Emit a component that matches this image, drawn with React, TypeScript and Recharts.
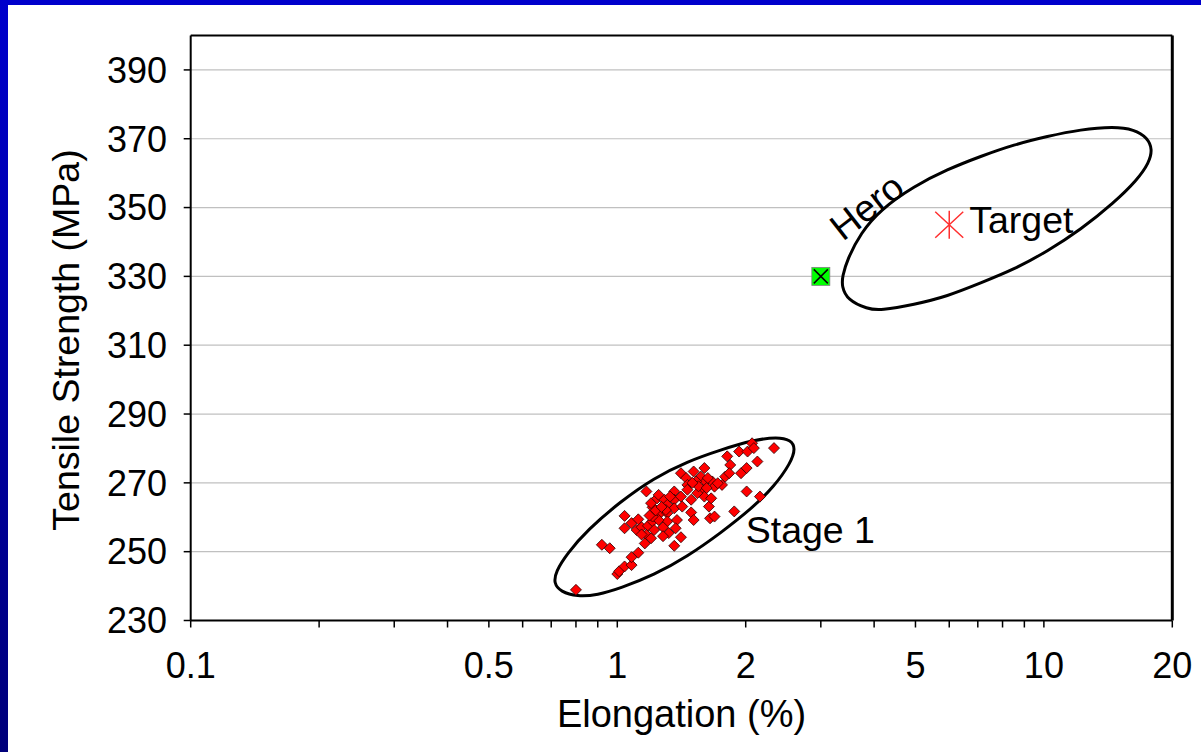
import { CartesianGrid, ReferenceDot, ReferenceLine, Scatter, ScatterChart, XAxis, YAxis } from 'recharts';

const FONT = '"Liberation Sans", Arial, Helvetica, sans-serif';

// Stage 1 castings: elongation (%) / tensile strength (MPa)
const stage1Elongation = [
  0.8, 0.92, 0.96, 1.0, 1.01, 1.04, 1.08, 1.08, 1.12, 1.04, 1.04, 1.08, 1.12, 1.11, 1.14, 1.18, 1.17, 1.2, 1.16, 1.21,
  1.17, 1.21, 1.2, 1.24, 1.25, 1.26, 1.29, 1.31, 1.31, 1.28, 1.32, 1.31, 1.36, 1.36, 1.38, 1.41, 1.36, 1.37, 1.41, 1.41,
  1.45, 1.46, 1.49, 1.49, 1.51, 1.51, 1.57, 1.6, 1.61, 1.58, 1.64, 1.65, 1.69, 1.6, 1.66, 1.67, 1.69, 1.76, 1.79, 1.81,
  1.84, 1.83, 1.88, 1.95, 2.01, 2.01, 2.13, 2.16, 1.93, 2.02, 2.07, 2.09, 2.33, 1.46, 1.53, 1.63, 1.72, 1.36, 1.42, 1.25,
  1.22, 1.33, 1.54, 1.3, 1.21, 1.23, 1.27, 1.19, 1.55, 1.62, 1.5, 1.14, 1.28,
];
const stage1Strength = [
  238.9, 252.0, 251.0, 243.5, 244.3, 245.7, 246.1, 248.4, 249.7, 260.4, 256.8, 258.3, 259.4, 256.3, 257.1, 257.5, 254.9, 253.9, 252.4, 258.8,
  267.5, 262.9, 264.1, 265.5, 266.5, 261.2, 265.1, 261.2, 258.8, 257.1, 255.4, 263.6, 267.5, 265.1, 259.2, 254.2, 251.7, 256.8, 272.8, 266.0,
  271.4, 269.4, 265.1, 261.4, 259.2, 273.3, 271.8, 274.3, 270.4, 268.0, 263.1, 259.7, 260.2, 266.0, 265.5, 270.4, 268.9, 269.4, 271.8, 277.7,
  275.2, 272.8, 261.7, 272.8, 274.3, 267.5, 276.2, 266.0, 279.1, 279.1, 281.5, 280.1, 280.1, 268.0, 270.4, 271.4, 269.9, 262.6, 263.1, 259.2,
  256.3, 266.0, 267.0, 262.1, 260.2, 262.0, 263.0, 260.5, 269.0, 268.5, 270.0, 255.0, 254.5,
];

// hand-drawn outline round the Stage 1 cloud
const stage1RingElongation = [
  0.71, 0.736, 0.806, 0.898, 1.018, 1.218, 1.459, 1.747, 2.091, 2.329, 2.549, 2.619, 2.549, 2.372, 2.091, 1.747, 1.459,
  1.218, 1.018, 0.851, 0.763, 0.717,
];
const stage1RingStrength = [
  240.8, 238.4, 236.9, 237.4, 239.4, 243.2, 248.6, 255.4, 263.1, 268.9, 275.7, 280.1, 282.5, 283.3, 282.5, 279.6, 276.2,
  271.4, 264.6, 256.3, 249.5, 244.2,
];

// hand-drawn "Hero" window round the target
const heroRingElongation = [
  3.36, 3.46, 3.86, 4.14, 4.96, 5.94, 7.11, 8.51, 10.19, 12.2, 14.6, 16.57, 17.64, 17.97, 17.49, 16.27, 14.6, 12.2, 10.19,
  8.51, 7.11, 5.94, 4.96, 4.14, 3.72, 3.46, 3.37,
];
const heroRingStrength = [
  327.1, 323.2, 320.5, 320.1, 321.8, 324.2, 328.1, 332.0, 337.3, 343.6, 351.4, 358.1, 363.0, 366.9, 370.3, 372.7, 373.5,
  372.7, 370.7, 368.3, 364.9, 361.1, 356.2, 349.4, 342.6, 334.9, 330.0,
];

const heroElongation = [3.0];
const heroStrength = [330];
const targetElongation = [6.0];
const targetStrength = [345];

const xTicks = [0.1, 0.2, 0.3, 0.4, 0.5, 0.6, 0.7, 0.8, 0.9, 1, 2, 3, 4, 5, 6, 7, 8, 9, 10, 20];
const xTickLabels = [0.1, 0.5, 1, 2, 5, 10, 20];
const yTicks = [230, 250, 270, 290, 310, 330, 350, 370, 390];

const zip = (xs: number[], ys: number[]) => xs.map((x, i) => ({ x, y: ys[i] }));

const stage1Data = zip(stage1Elongation, stage1Strength);
const stage1Ring = zip(stage1RingElongation, stage1RingStrength);
const heroRing = zip(heroRingElongation, heroRingStrength);
const heroData = zip(heroElongation, heroStrength);
const targetData = zip(targetElongation, targetStrength);

function XTick({ x, y, payload }: any) {
  if (!xTickLabels.includes(payload.value)) return <g />;
  return (
    <text x={x} y={y} dy="0.71em" textAnchor="middle" fontSize={36} fill="#000" fontFamily={FONT}>
      {payload.value}
    </text>
  );
}

function Diamond({ cx, cy }: any) {
  const r = 5.5;
  return (
    <polygon
      points={`${cx},${cy - r} ${cx + r},${cy} ${cx},${cy + r} ${cx - r},${cy}`}
      fill="#FF0000"
      stroke="#2a0000"
      strokeWidth={0.8}
    />
  );
}

function HeroMarker({ cx, cy }: any) {
  return (
    <g>
      <rect x={cx - 9} y={cy - 9} width={18} height={18} fill="#00FF00" stroke="#808080" strokeWidth={0.8} />
      <path
        d={`M${cx - 7},${cy - 7}L${cx + 7},${cy + 7}M${cx + 7},${cy - 7}L${cx - 7},${cy + 7}`}
        stroke="#000"
        strokeWidth={1.5}
      />
    </g>
  );
}

function TargetMarker({ cx, cy }: any) {
  const s = 14;
  return (
    <g>
      <path
        d={`M${cx},${cy - s}V${cy + s}M${cx - s},${cy - 13}L${cx + s},${cy + 13}M${cx + s},${cy - 13}L${cx - s},${cy + 13}`}
        stroke="#FF3030"
        strokeWidth={1.5}
        fill="none"
      />
      <text x={cx + 20} y={cy + 8} fontSize={37.5} fill="#000" fontFamily={FONT}>
        Target
      </text>
    </g>
  );
}

const noDot = () => <g />;

export default function App() {
  return (
    <div
      style={{
        position: 'relative',
        width: 1201,
        height: 752,
        background: 'linear-gradient(to bottom, #0000CC, #00007A)',
        fontFamily: FONT,
      }}
    >
      <style>{'body{margin:0}'}</style>
      <div style={{ position: 'absolute', left: 8, top: 5, right: 0, bottom: 0, background: '#fff' }} />
      <div style={{ position: 'absolute', left: 0, top: 0 }}>
        <ScatterChart width={1201} height={752} margin={{ top: 35.5, right: 28.7, bottom: 0, left: 0 }}>
          <CartesianGrid vertical={false} stroke="#c0c0c0" strokeWidth={1.2} />
          <XAxis
            type="number"
            dataKey="x"
            scale="log"
            domain={[0.1, 20]}
            allowDataOverflow
            ticks={xTicks}
            interval={0}
            height={131.5}
            tickSize={7}
            tickMargin={25}
            tick={<XTick />}
            axisLine={{ stroke: '#000', strokeWidth: 2 }}
            tickLine={{ stroke: '#000', strokeWidth: 1.5 }}
            label={{ value: 'Elongation (%)', position: 'insideBottom', offset: 25, fontSize: 38, fill: '#000' }}
          />
          <YAxis
            type="number"
            dataKey="y"
            domain={[230, 400]}
            allowDataOverflow
            ticks={yTicks}
            interval={0}
            width={190.7}
            tickSize={7}
            tickMargin={16.7}
            tick={{ fontSize: 36, fill: '#000', fontFamily: FONT }}
            axisLine={{ stroke: '#000', strokeWidth: 2 }}
            tickLine={{ stroke: '#000', strokeWidth: 1.5 }}
            label={{
              content: () => (
                <text transform="translate(79 340) rotate(-90)" textAnchor="middle" fontSize={37.5} fill="#000" fontFamily={FONT}>
                  Tensile Strength (MPa)
                </text>
              ),
            }}
          />
          <ReferenceLine y={400} stroke="#000" strokeWidth={2} />
          <ReferenceLine x={20} stroke="#000" strokeWidth={3} />
          <Scatter
            data={stage1Ring}
            line={{ stroke: '#000', strokeWidth: 3 }}
            lineJointType="basisClosed"
            shape={noDot}
            isAnimationActive={false}
          />
          <Scatter
            data={heroRing}
            line={{ stroke: '#000', strokeWidth: 3 }}
            lineJointType="basisClosed"
            shape={noDot}
            isAnimationActive={false}
          />
          <Scatter data={stage1Data} shape={<Diamond />} isAnimationActive={false} />
          <Scatter data={heroData} shape={<HeroMarker />} isAnimationActive={false} />
          <Scatter data={targetData} shape={<TargetMarker />} isAnimationActive={false} />
          <ReferenceDot
            x={3.84}
            y={350.3}
            r={0}
            shape={({ cx, cy }: any) => (
              <text
                x={cx}
                y={cy}
                dy="0.355em"
                textAnchor="middle"
                fontSize={37.5}
                fill="#000"
                fontFamily={FONT}
                transform={`rotate(-38 ${cx} ${cy})`}
              >
                Hero
              </text>
            )}
          />
          <ReferenceDot
            x={2.0}
            y={252.5}
            r={0}
            shape={({ cx, cy }: any) => (
              <text x={cx} y={cy} fontSize={37.5} fill="#000" fontFamily={FONT}>
                Stage 1
              </text>
            )}
          />
        </ScatterChart>
      </div>
    </div>
  );
}
